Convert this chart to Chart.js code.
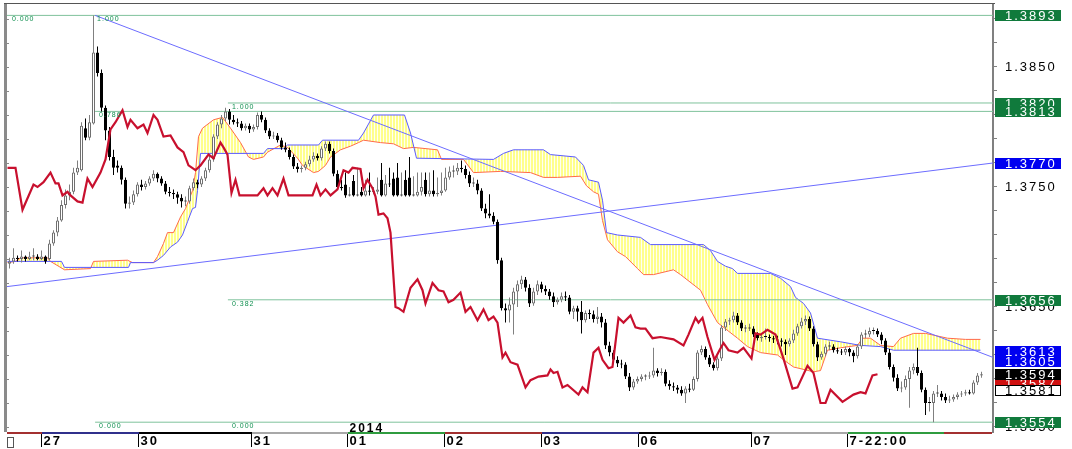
<!DOCTYPE html>
<html>
<head>
<meta charset="utf-8">
<script src="https://cdn.jsdelivr.net/npm/chart.js@4.4.1/dist/chart.umd.min.js"></script>
<style>
  html, body { margin: 0; padding: 0; background: #fff; }
  canvas { display: block; }
</style>
</head>
<body>
<canvas id="chart" width="1072" height="449"></canvas>
<script>
// hourly bars, 27 Dec 2013 - 7 Jan 2014, ichimoku view

const barOpen = [
  1.3686,1.3688,1.3691,1.3690,1.3692,1.3690,1.3692,1.3692,1.3690,1.3692,
  1.3690,1.3703,1.3712,1.3722,1.3735,1.3743,1.3746,1.3762,1.3764,1.3799,
  1.3791,1.3803,1.3862,1.3845,1.3816,1.3797,1.3775,
  1.3768,1.3766,1.3756,1.3736,1.3737,1.3744,1.3752,1.3750,1.3753,1.3757,
  1.3761,1.3757,1.3753,1.3746,1.3745,1.3744,1.3741,1.3738,1.3738,1.3749,
  1.3754,1.3752,1.3757,1.3764,1.3773,1.3792,1.3802,1.3807,1.3813,1.3806,
  1.3804,1.3803,1.3799,1.3801,1.3798,1.3800,1.3810,1.3806,1.3797,1.3792,
  1.3793,1.3789,1.3783,1.3781,1.3775,1.3767,1.3765,1.3766,1.3769,1.3773,
  1.3776,1.3774,1.3782,1.3786,1.3780,1.3761,1.3750,1.3752,1.3743,1.3755,
  1.3743,1.3746,1.3743,1.3747,1.3746,1.3746,1.3756,1.3743,1.3753,1.3757,
  1.3758,1.3743,1.3756,1.3758,1.3743,1.3743,1.3746,1.3756,1.3744,1.3747,
  1.3744,1.3745,1.3747,1.3758,1.3763,1.3763,1.3766,1.3765,1.3760,1.3753,
  1.3753,1.3747,1.3732,1.3728,1.3726,1.3721,1.3689,1.3649,1.3647,1.3652,
  1.3663,1.3669,1.3673,1.3666,1.3653,1.3663,1.3669,1.3665,1.3663,1.3659,
  1.3654,1.3656,1.3659,1.3658,1.3646,1.3649,1.3646,1.3639,1.3645,1.3644,
  1.3640,1.3642,1.3637,1.3618,1.3612,1.3606,1.3603,1.3602,1.3592,1.3583,
  1.3588,1.3590,1.3592,1.3592,1.3593,1.3597,1.3595,1.3596,1.3586,1.3584,
  1.3583,1.3581,1.3578,1.3582,1.3581,1.3590,1.3612,1.3615,1.3608,1.3602,
  1.3599,1.3607,1.3633,1.3638,1.3639,1.3643,1.3637,1.3632,1.3632,1.3632,
  1.3627,1.3624,1.3625,1.3625,1.3624,1.3623,1.3622,1.3621,1.3619,1.3622,
  1.3628,1.3634,1.3638,1.3640,1.3632,1.3619,1.3608,1.3611,1.3617,1.3617,
  1.3614,1.3613,1.3612,1.3615,1.3612,1.3609,1.3617,1.3627,1.3627,1.3630,
  1.3630,1.3627,1.3622,1.3612,1.3600,1.3591,1.3582,1.3583,1.3590,1.3597,
  1.3600,1.3595,1.3581,1.3570,1.3570,1.3578,1.3578,1.3575,1.3572,1.3573,
  1.3575,1.3577,1.3578,1.3579,1.3578,1.3587,1.3593
];
const barHigh = [
  1.3691,1.3699,1.3693,1.3697,1.3693,1.3696,1.3699,1.3694,1.3697,1.3693,
  1.3706,1.3714,1.3725,1.3739,1.3748,1.3752,1.3766,1.3772,1.3804,1.3807,
  1.3810,1.3893,1.3867,1.3848,1.3818,1.3800,1.3781,
  1.3772,1.3768,1.3758,1.3742,1.3747,1.3754,1.3756,1.3755,1.3759,1.3764,
  1.3762,1.3759,1.3755,1.3750,1.3748,1.3746,1.3744,1.3742,1.3751,1.3757,
  1.3756,1.3759,1.3766,1.3776,1.3794,1.3804,1.3810,1.3816,1.3815,1.3810,
  1.3807,1.3805,1.3803,1.3803,1.3802,1.3812,1.3813,1.3808,1.3799,1.3796,
  1.3795,1.3791,1.3787,1.3783,1.3777,1.3770,1.3768,1.3771,1.3776,1.3779,
  1.3778,1.3784,1.3788,1.3788,1.3782,1.3764,1.3756,1.3762,1.3750,1.3760,
  1.3766,1.3750,1.3756,1.3762,1.3750,1.3758,1.3770,1.3760,1.3766,1.3762,
  1.3770,1.3762,1.3764,1.3775,1.3759,1.3762,1.3762,1.3762,1.3762,1.3764,
  1.3758,1.3762,1.3766,1.3767,1.3768,1.3770,1.3772,1.3768,1.3763,1.3758,
  1.3756,1.3749,1.3736,1.3744,1.3729,1.3723,1.3691,1.3653,1.3658,1.3666,
  1.3672,1.3676,1.3675,1.3669,1.3666,1.3672,1.3671,1.3668,1.3665,1.3662,
  1.3658,1.3662,1.3663,1.3660,1.3651,1.3651,1.3655,1.3647,1.3648,1.3647,
  1.3650,1.3645,1.3640,1.3621,1.3614,1.3609,1.3606,1.3604,1.3595,1.3590,
  1.3592,1.3594,1.3594,1.3596,1.3616,1.3599,1.3599,1.3598,1.3589,1.3587,
  1.3585,1.3584,1.3584,1.3586,1.3592,1.3614,1.3618,1.3617,1.3610,1.3604,
  1.3609,1.3635,1.3640,1.3641,1.3646,1.3645,1.3639,1.3635,1.3636,1.3634,
  1.3629,1.3627,1.3632,1.3627,1.3626,1.3626,1.3624,1.3623,1.3624,1.3631,
  1.3636,1.3641,1.3643,1.3642,1.3634,1.3621,1.3613,1.3619,1.3621,1.3619,
  1.3616,1.3615,1.3617,1.3616,1.3614,1.3619,1.3629,1.3631,1.3633,1.3633,
  1.3632,1.3629,1.3624,1.3615,1.3602,1.3594,1.3588,1.3593,1.3600,1.3603,
  1.3616,1.3597,1.3583,1.3575,1.3580,1.3585,1.3580,1.3578,1.3576,1.3577,
  1.3579,1.3580,1.3581,1.3581,1.3589,1.3595,1.3596
];
const barLow = [
  1.3682,1.3686,1.3688,1.3687,1.3688,1.3689,1.3689,1.3689,1.3689,1.3686,
  1.3689,1.3701,1.3709,1.3721,1.3732,1.3739,1.3744,1.3760,1.3763,1.3789,
  1.3789,1.3802,1.3842,1.3813,1.3789,1.3772,1.3760,
  1.3762,1.3752,1.3732,1.3732,1.3735,1.3742,1.3747,1.3748,1.3751,1.3755,
  1.3754,1.3751,1.3744,1.3742,1.3740,1.3736,1.3733,1.3734,1.3736,1.3747,
  1.3749,1.3750,1.3755,1.3762,1.3771,1.3790,1.3799,1.3805,1.3802,1.3802,
  1.3800,1.3797,1.3797,1.3795,1.3796,1.3798,1.3804,1.3795,1.3790,1.3790,
  1.3787,1.3781,1.3779,1.3773,1.3765,1.3762,1.3762,1.3764,1.3767,1.3771,
  1.3772,1.3772,1.3780,1.3778,1.3759,1.3748,1.3747,1.3741,1.3742,1.3742,
  1.3742,1.3742,1.3742,1.3743,1.3744,1.3744,1.3742,1.3742,1.3750,1.3742,
  1.3742,1.3742,1.3742,1.3742,1.3742,1.3742,1.3743,1.3742,1.3742,1.3742,
  1.3742,1.3743,1.3746,1.3756,1.3758,1.3760,1.3762,1.3757,1.3750,1.3750,
  1.3744,1.3730,1.3724,1.3724,1.3719,1.3686,1.3647,1.3637,1.3637,1.3627,
  1.3650,1.3665,1.3663,1.3650,1.3651,1.3660,1.3662,1.3660,1.3656,1.3650,
  1.3652,1.3654,1.3655,1.3644,1.3640,1.3638,1.3628,1.3637,1.3640,1.3637,
  1.3636,1.3633,1.3615,1.3609,1.3603,1.3600,1.3599,1.3590,1.3580,1.3581,
  1.3586,1.3588,1.3589,1.3590,1.3591,1.3592,1.3593,1.3584,1.3581,1.3580,
  1.3578,1.3576,1.3570,1.3579,1.3580,1.3588,1.3610,1.3606,1.3600,1.3597,
  1.3597,1.3605,1.3630,1.3635,1.3637,1.3635,1.3630,1.3629,1.3630,1.3625,
  1.3622,1.3621,1.3623,1.3621,1.3620,1.3619,1.3617,1.3610,1.3617,1.3620,
  1.3626,1.3632,1.3635,1.3630,1.3617,1.3605,1.3606,1.3609,1.3614,1.3612,
  1.3611,1.3610,1.3610,1.3609,1.3604,1.3607,1.3615,1.3624,1.3625,1.3627,
  1.3625,1.3619,1.3610,1.3598,1.3588,1.3580,1.3579,1.3581,1.3566,1.3594,
  1.3593,1.3579,1.3560,1.3563,1.3554,1.3575,1.3572,1.3570,1.3570,1.3571,
  1.3573,1.3575,1.3576,1.3577,1.3577,1.3585,1.3591
];
const barClose = [
  1.3688,1.3691,1.3690,1.3692,1.3690,1.3692,1.3692,1.3690,1.3692,1.3688,
  1.3703,1.3712,1.3722,1.3735,1.3743,1.3746,1.3762,1.3766,1.3801,1.3791,
  1.3804,1.3862,1.3845,1.3816,1.3797,1.3775,1.3766,
  1.3766,1.3756,1.3736,1.3737,1.3744,1.3752,1.3750,1.3753,1.3757,1.3761,
  1.3757,1.3753,1.3746,1.3745,1.3744,1.3741,1.3738,1.3738,1.3749,1.3754,
  1.3752,1.3757,1.3764,1.3773,1.3792,1.3802,1.3807,1.3813,1.3806,1.3804,
  1.3803,1.3799,1.3801,1.3798,1.3800,1.3810,1.3806,1.3797,1.3792,1.3793,
  1.3789,1.3783,1.3781,1.3775,1.3767,1.3765,1.3766,1.3769,1.3773,1.3776,
  1.3774,1.3782,1.3786,1.3780,1.3761,1.3750,1.3749,1.3743,1.3743,1.3743,
  1.3743,1.3743,1.3747,1.3746,1.3746,1.3748,1.3743,1.3753,1.3752,1.3743,
  1.3743,1.3743,1.3743,1.3743,1.3743,1.3746,1.3750,1.3744,1.3747,1.3744,
  1.3745,1.3747,1.3758,1.3763,1.3763,1.3766,1.3765,1.3760,1.3753,1.3753,
  1.3747,1.3732,1.3728,1.3726,1.3721,1.3689,1.3649,1.3647,1.3652,1.3663,
  1.3669,1.3673,1.3666,1.3653,1.3663,1.3669,1.3665,1.3663,1.3659,1.3654,
  1.3656,1.3659,1.3658,1.3646,1.3649,1.3646,1.3639,1.3645,1.3644,1.3640,
  1.3642,1.3637,1.3618,1.3612,1.3606,1.3603,1.3602,1.3592,1.3583,1.3588,
  1.3590,1.3592,1.3592,1.3593,1.3597,1.3595,1.3596,1.3586,1.3584,1.3583,
  1.3581,1.3578,1.3582,1.3581,1.3590,1.3612,1.3615,1.3608,1.3602,1.3599,
  1.3607,1.3633,1.3638,1.3639,1.3643,1.3637,1.3632,1.3632,1.3632,1.3627,
  1.3624,1.3625,1.3625,1.3624,1.3623,1.3622,1.3621,1.3619,1.3622,1.3628,
  1.3634,1.3638,1.3640,1.3632,1.3619,1.3608,1.3611,1.3617,1.3617,1.3614,
  1.3613,1.3612,1.3615,1.3612,1.3609,1.3617,1.3627,1.3627,1.3630,1.3630,
  1.3627,1.3622,1.3612,1.3600,1.3591,1.3582,1.3583,1.3590,1.3597,1.3600,
  1.3595,1.3581,1.3570,1.3570,1.3578,1.3578,1.3575,1.3572,1.3573,1.3575,
  1.3577,1.3578,1.3579,1.3578,1.3587,1.3593,1.3594
];

// lagging line (red)
const laggingX = [
  -0.5,1.5,3.25,6,7,8.5,10.25,11.5,12.25,13.25,
  14.5,15.25,17,18.25,19.5,20.75,22.75,24,25.25,26.5,
  28.25,29.5,30.25,32,33.5,34.5,36,37,38.5,40.25,
  42,43.5,44.75,46.5,47.75,49.75,51,52.75,53.5,54.5,
  55.5,56.5,57.5,62,63.5,64.5,65.75,67,68.5,69.75,
  75.75,76.75,77.75,79,80.25,82,83.5,84.75,85.75,87.75,
  88.5,89.5,90.75,91.5,92.25,93.5,94.5,95.25,96.5,97.25,
  98.5,100.25,102,103.25,104,105.75,107.25,108.5,109.75,111,
  112.75,114,115.25,117,118.5,119.75,121,122,123.25,124,
  125.25,127,129,130.25,132.25,134.5,135.25,136,137,138.25,
  139.5,142.25,143.25,144.5,146,147.25,148.25,149.75,150.75,152.25,
  153.5,155.25,156.5,157.75,159,160.75,162.75,166,168.5,169.75,
  171.5,172.25,173.25,174.5,176.25,177.5,178.5,179.75,182,183.5,
  185.5,186.5,187.75,189.5,191.5,193.5,195.75,197,199.5,201,
  202.75,204,205.25,208.25,211,212.75,214,215.75,217
];
const laggingY = [
  1.3766,1.3766,1.3731,1.3752,1.3750,1.3754,1.3762,1.3753,1.3753,1.3743,
  1.3746,1.3743,1.3738,1.3737,1.3757,1.3750,1.3762,1.3773,1.3798,1.3804,
  1.3814,1.3800,1.3806,1.3799,1.3802,1.3795,1.3810,1.3806,1.3792,1.3793,
  1.3783,1.3779,1.3768,1.3764,1.3768,1.3777,1.3774,1.3787,1.3783,1.3777,
  1.3745,1.3756,1.3743,1.3743,1.3749,1.3743,1.3749,1.3743,1.3757,1.3743,
  1.3743,1.3752,1.3743,1.3748,1.3743,1.3748,1.3764,1.3762,1.3766,1.3765,
  1.3749,1.3756,1.3749,1.3742,1.3727,1.3728,1.3724,1.3712,1.3650,1.3649,
  1.3646,1.3666,1.3673,1.3664,1.3653,1.3670,1.3664,1.3663,1.3654,1.3656,
  1.3662,1.3646,1.3650,1.3639,1.3648,1.3639,1.3642,1.3637,1.3608,1.3612,
  1.3604,1.3602,1.3583,1.3589,1.3592,1.3593,1.3598,1.3595,1.3596,1.3583,
  1.3585,1.3577,1.3583,1.3579,1.3612,1.3616,1.3606,1.3599,1.3600,1.3641,
  1.3637,1.3643,1.3633,1.3632,1.3632,1.3624,1.3625,1.3623,1.3618,1.3627,
  1.3641,1.3637,1.3641,1.3625,1.3606,1.3614,1.3620,1.3614,1.3612,1.3616,
  1.3607,1.3628,1.3627,1.3631,1.3627,1.3607,1.3582,1.3583,1.3601,1.3595,
  1.3570,1.3570,1.3581,1.3571,1.3577,1.3579,1.3578,1.3593,1.3594
];

// cloud edges
const spanAX = [
  -0.5,1.5,2.75,9.5,10.25,13.75,20.25,21,29.5,30.75,
  36,37,38.5,39.5,41,42.75,44,45.75,46.5,47.25,
  48.25,51,53.25,55.25,57.75,59.75,61,63.5,64.5,67.75,
  69.5,72,73.25,76,77.25,79,80.25,82.75,85.25,87.25,
  88.5,92.75,96,98.5,101,107,108,113.5,116,122.75,
  130.25,133.5,137,142.75,144.25,146,147.25,148.25,149.5,152,
  154,157,158.5,161,166,167.75,172.75,174.5,177,182,
  184.5,187.75,192,193.5,196,201,202.75,204.5,207.75,212,
  213.25,215.25,217.75,221,222.75,226,229,234.5,239,242.75
];
const spanAY = [
  1.3687,1.3688,1.3691,1.3691,1.3688,1.3681,1.3682,1.3688,1.3689,1.3687,
  1.3687,1.3692,1.3703,1.3712,1.3712,1.3725,1.3732,1.3747,1.3762,1.3792,
  1.3799,1.3806,1.3808,1.3799,1.3787,1.3775,1.3773,1.3775,1.3779,1.3785,
  1.3783,1.3774,1.3768,1.3762,1.3763,1.3768,1.3775,1.3781,1.3784,1.3787,
  1.3789,1.3787,1.3786,1.3782,1.3783,1.3781,1.3773,1.3773,1.3762,1.3763,
  1.3762,1.3758,1.3758,1.3759,1.3751,1.3746,1.3744,1.3722,1.3706,1.3696,
  1.3692,1.3682,1.3677,1.3677,1.3681,1.3677,1.3664,1.3652,1.3637,1.3624,
  1.3617,1.3612,1.3610,1.3606,1.3600,1.3596,1.3597,1.3614,1.3616,1.3618,
  1.3624,1.3624,1.3618,1.3617,1.3624,1.3628,1.3628,1.3624,1.3623,1.3623
];
const spanBX = [
  -0.5,13,13.75,29.75,30.25,36,37,38.5,40.25,42,
  43.25,44.5,45.75,46.5,47,47.75,63.5,64.5,68.5,69.5,
  77.25,78.25,87.25,88.5,91,98.75,100.25,101.75,121,123.5,
  126,133.5,135.25,141.5,143.5,144.75,147.25,148.25,149.25,152,
  157.75,160.25,173.5,175.25,177,179,180.75,182,190.25,192.75,
  195.25,196.5,198.5,200.25,202,207.75,212.75,217.75,221,242.75
];
const spanBY = [
  1.3688,1.3688,1.3683,1.3683,1.3687,1.3687,1.3689,1.3693,1.3700,1.3704,
  1.3710,1.3721,1.3732,1.3733,1.3747,1.3778,1.3778,1.3782,1.3782,1.3785,
  1.3785,1.3789,1.3789,1.3795,1.3810,1.3810,1.3795,1.3774,1.3773,1.3778,
  1.3781,1.3781,1.3777,1.3775,1.3768,1.3756,1.3754,1.3739,1.3712,1.3710,
  1.3708,1.3702,1.3702,1.3697,1.3688,1.3684,1.3682,1.3678,1.3678,1.3674,
  1.3667,1.3658,1.3653,1.3645,1.3624,1.3621,1.3618,1.3617,1.3614,1.3614
];

// trend lines
const trendDownX = [21.4, 245.875];
const trendDownY = [1.3893, 1.3608];
const trendUpX = [-0.625, 245.875];
const trendUpY = [1.3667, 1.3770];

// fibonacci levels
const fibLevels = [1.3893, 1.3820, 1.3813, 1.3656, 1.3554];
const fibFrom = [-0.625, 54.6, 21.4, 54.6, 21.4];
const fibTagText = ['0.000', '1.000', '1.000', '0.786', '0.382', '0.000', '0.000'];
const fibTagLevel = [1.3893, 1.3893, 1.3820, 1.3813, 1.3656, 1.3554, 1.3554];
const fibTagAt = [0.6, 21.9, 55.6, 22.4, 55.6, 22.4, 55.6];

// price tags on the right axis
const tagValues = [1.3893, 1.3820, 1.3813, 1.3770, 1.3656, 1.3613, 1.3605, 1.3587, 1.3594, 1.3581, 1.3554];
const tagFill = ['#107a3c', '#107a3c', '#107a3c', '#0000f0', '#107a3c', '#0000f0', '#0000f0', '#d01010', '#000000', '#ffffff', '#107a3c'];
const tagInk = ['#fff', '#fff', '#fff', '#fff', '#fff', '#fff', '#fff', '#fff', '#fff', '#000', '#fff'];

// axes
const dayTicks = [8, 32.25, 60.5, 84.5, 108.75, 133, 157.25, 185.5, 209.5];
const dayLabels = ['27', '30', '31', '01', '02', '03', '06', '07', '7-22:00'];
const stripEdges = [-0.625, 8, 32.25, 60.5, 84.5, 108.75, 133, 157.25, 185.5, 209.5, 233.5, 245.5];
const stripColors = ['#a33030', '#30308c', '#000000', '#a8a8a8', '#2f9c3f', '#a33030', '#30308c', '#000000', '#a8a8a8', '#2f9c3f', '#a33030'];
const yMajor = [1.3550, 1.3600, 1.3650, 1.3700, 1.3750, 1.3800, 1.3850];

const X_MIN = -0.625;
const X_MAX = 245.875;
const Y_MIN = 1.354583;
const Y_MAX = 1.39025;

function pts(xs, ys) {
  return xs.map((x, i) => ({ x, y: ys[i] }));
}

function stripes() {
  const c = document.createElement('canvas');
  c.width = 3;
  c.height = 1;
  const g = c.getContext('2d');
  g.fillStyle = '#ffff8c';
  g.fillRect(0, 0, 2, 1);
  g.fillStyle = '#fffff2';
  g.fillRect(2, 0, 1, 1);
  return g.createPattern(c, 'repeat');
}

const upBar = barClose.map((c, i) => c > barOpen[i]);
const downBar = barClose.map((c, i) => c < barOpen[i]);

const lineBase = { type: 'line', pointRadius: 0, borderWidth: 1, tension: 0, fill: false };

const datasets = [
  { ...lineBase, data: pts(spanAX, spanAY), borderColor: '#ff6a4a',
    fill: { target: '+1', above: stripes(), below: stripes() }, order: 30 },
  { ...lineBase, data: pts(spanBX, spanBY), borderColor: '#5a5aff', order: 29 },
];

fibLevels.forEach((lv, k) => {
  datasets.push({ ...lineBase, data: pts([fibFrom[k], X_MAX], [lv, lv]), borderColor: '#7fc29c', order: 25 });
});

datasets.push({ ...lineBase, data: pts(trendDownX, trendDownY), borderColor: '#6c6cff', order: 20 });
datasets.push({ ...lineBase, data: pts(trendUpX, trendUpY), borderColor: '#6c6cff', order: 20 });

datasets.push({
  type: 'bar',
  data: barHigh.map((h, i) => ({ x: i, y: [barLow[i], h] })),
  backgroundColor: downBar.map(d => (d ? '#000000' : '#808080')),
  borderWidth: 0,
  barThickness: 1,
  grouped: false,
  inflateAmount: 0,
  order: 12,
});
datasets.push({
  type: 'bar',
  data: barOpen.map((o, i) => ({ x: i, y: [o, barClose[i]] })),
  backgroundColor: upBar.map(u => (u ? '#ffffff' : '#000000')),
  borderColor: upBar.map(u => (u ? '#707070' : '#000000')),
  borderWidth: 1,
  borderSkipped: false,
  barThickness: 3,
  minBarLength: 1,
  grouped: false,
  inflateAmount: 0,
  order: 11,
});

datasets.push({ ...lineBase, data: pts(laggingX, laggingY), borderColor: '#c8102e', borderWidth: 2.2, order: 5 });

const framePlugin = {
  id: 'frame',
  beforeDraw(chart) {
    chart.ctx.letterSpacing = '2px';
  },
  afterDraw(chart) {
    const { ctx, chartArea: area, scales: { x, y } } = chart;
    ctx.save();

    // fib level captions
    ctx.letterSpacing = '1px';
    ctx.font = '7px "Liberation Sans"';
    ctx.fillStyle = '#0f8f4f';
    ctx.textBaseline = 'alphabetic';
    ctx.textAlign = 'left';
    fibTagText.forEach((t, k) => {
      ctx.fillText(t, x.getPixelForValue(fibTagAt[k]), y.getPixelForValue(fibTagLevel[k]) + 6);
    });

    // year caption
    ctx.letterSpacing = '2px';
    ctx.font = 'bold 12px "Liberation Sans"';
    ctx.fillStyle = '#000';
    ctx.fillText('2014', x.getPixelForValue(dayTicks[3]) + 2, area.bottom);

    // left edge and frame
    ctx.fillStyle = '#8a8a8a';
    ctx.fillRect(area.left - 3, area.top - 1, 3, area.bottom - area.top + 1);
    ctx.strokeStyle = '#8a8a8a';
    ctx.lineWidth = 1;
    y.ticks.forEach(t => {
      const py = Math.round(y.getPixelForValue(t.value)) + 0.5;
      ctx.beginPath();
      ctx.moveTo(area.left, py);
      ctx.lineTo(area.left + 2, py);
      ctx.stroke();
    });
    ctx.fillStyle = '#555';
    ctx.fillRect(area.left - 3, area.top - 1, area.right - area.left + 5, 1);

    // day colour strip
    for (let k = 0; k < stripColors.length; k++) {
      const x0 = Math.round(x.getPixelForValue(stripEdges[k]));
      const x1 = Math.round(x.getPixelForValue(stripEdges[k + 1]));
      ctx.fillStyle = stripColors[k];
      ctx.fillRect(x0, area.bottom, x1 - x0, 2);
    }
    ctx.strokeStyle = '#555';
    ctx.strokeRect(area.left + 0.5, area.bottom + 5.5, 6, 10);

    // price tags
    ctx.font = '13px "Liberation Sans"';
    ctx.textBaseline = 'middle';
    tagValues.forEach((v, k) => {
      const py = Math.round(y.getPixelForValue(v));
      const bx = area.right + 2;
      ctx.fillStyle = tagFill[k];
      ctx.fillRect(bx, py - 5, 66, 11);
      if (tagFill[k] === '#ffffff') {
        ctx.strokeStyle = '#000';
        ctx.strokeRect(bx + 0.5, py - 4.5, 65, 10);
      }
      ctx.fillStyle = tagInk[k];
      ctx.fillText(v.toFixed(4), area.right + 12, py + 1);
    });

    ctx.restore();
  },
};

Chart.defaults.font.family = '"Liberation Sans", Arial, sans-serif';

new Chart(document.getElementById('chart'), {
  type: 'line',
  data: { datasets },
  options: {
    responsive: false,
    animation: false,
    events: [],
    devicePixelRatio: 1,
    layout: { padding: { top: 4, left: 7, right: 0, bottom: 0 } },
    plugins: { legend: { display: false }, tooltip: { enabled: false } },
    scales: {
      x: {
        type: 'linear',
        min: X_MIN,
        max: X_MAX,
        offset: false,
        afterFit: (s) => {
          s.height = 17;
          s.paddingLeft = 0;
          s.paddingRight = 0;
        },
        afterBuildTicks: (s) => { s.ticks = dayTicks.map(v => ({ value: v })); },
        grid: { offset: false, drawOnChartArea: false, drawTicks: true, tickLength: 15, color: '#000', tickColor: '#000' },
        border: { display: false },
        ticks: {
          autoSkip: false,
          maxRotation: 0,
          align: 'start',
          labelOffset: 2,
          padding: -13,
          color: '#000',
          font: { size: 13, weight: 'bold' },
          callback: (v, i) => dayLabels[i],
        },
      },
      y: {
        type: 'linear',
        position: 'right',
        min: Y_MIN,
        max: Y_MAX,
        afterFit: (s) => {
          s.width = 79;
          s.paddingTop = 0;
          s.paddingBottom = 0;
        },
        afterBuildTicks: (s) => {
          const t = [];
          for (let k = 1355; k <= 1390; k++) t.push({ value: k / 1000 });
          s.ticks = t;
        },
        grid: { drawOnChartArea: false, drawTicks: true, tickLength: 4, color: '#808080', tickColor: '#808080' },
        border: { display: true, color: '#808080', width: 2 },
        ticks: {
          padding: 8,
          color: '#000',
          font: { size: 13 },
          callback: (v) => (yMajor.some(m => Math.abs(m - v) < 1e-7) ? v.toFixed(4) : ''),
        },
      },
    },
  },
  plugins: [framePlugin],
});
</script>
</body>
</html>
